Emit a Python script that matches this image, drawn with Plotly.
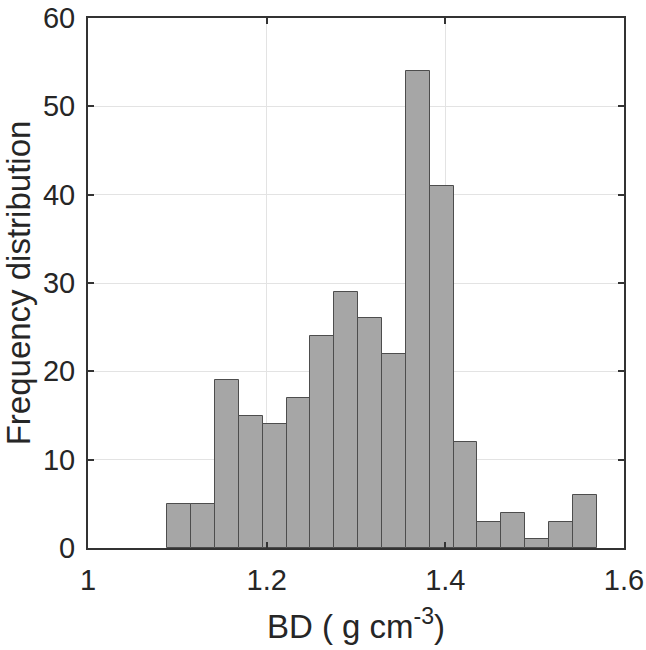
import plotly.graph_objects as go

# histogram of bulk density (BD)
bin_start = 1.0888
bin_width = 0.0267
counts = [5, 5, 19, 15, 14, 17, 24, 29, 26, 22, 54, 41, 12, 3, 4, 1, 3, 6]
centers = [round(bin_start + bin_width * (i + 0.5), 4) for i in range(len(counts))]

x_ticks = [1, 1.2, 1.4, 1.6]
x_tick_text = ["1", "1.2", "1.4", "1.6"]
y_ticks = [0, 10, 20, 30, 40, 50, 60]

fig = go.Figure(
    go.Bar(
        x=centers,
        y=counts,
        width=bin_width,
        marker=dict(color="#a6a6a6", line=dict(color="#4d4d4d", width=1)),
        hoverinfo="skip",
    )
)

axis_common = dict(
    automargin=False,
    showline=True,
    linecolor="#333333",
    linewidth=2,
    mirror="allticks",
    ticks="inside",
    ticklen=6,
    tickwidth=2,
    tickcolor="#333333",
    showgrid=True,
    gridcolor="#e3e3e3",
    gridwidth=1,
    zeroline=False,
    ticklabelstandoff=5,
    ticklabeloverflow="allow",
    tickfont=dict(family="Liberation Sans, Arial", size=29, color="#262626"),
    title_font=dict(family="Liberation Sans, Arial", size=33, color="#262626"),
)

fig.update_xaxes(
    range=[1, 1.6],
    tickvals=x_ticks,
    ticktext=x_tick_text,
    title_text="BD ( g cm<sup>-3</sup>)",
    title_standoff=20,
    **axis_common,
)
fig.update_yaxes(
    range=[0, 60],
    tickvals=y_ticks,
    title_text="Frequency distribution",
    title_standoff=14,
    **axis_common,
)

fig.update_layout(
    width=646,
    height=650,
    margin=dict(l=88, r=22, t=18, b=102),
    plot_bgcolor="white",
    paper_bgcolor="white",
    bargap=0,
    showlegend=False,
)

# drop the default 8 px body margin so the figure sits at the page corner
fig.write_html(
    "out.html",
    config={"displayModeBar": False},
    post_script="document.body.style.margin = '0';",
)
